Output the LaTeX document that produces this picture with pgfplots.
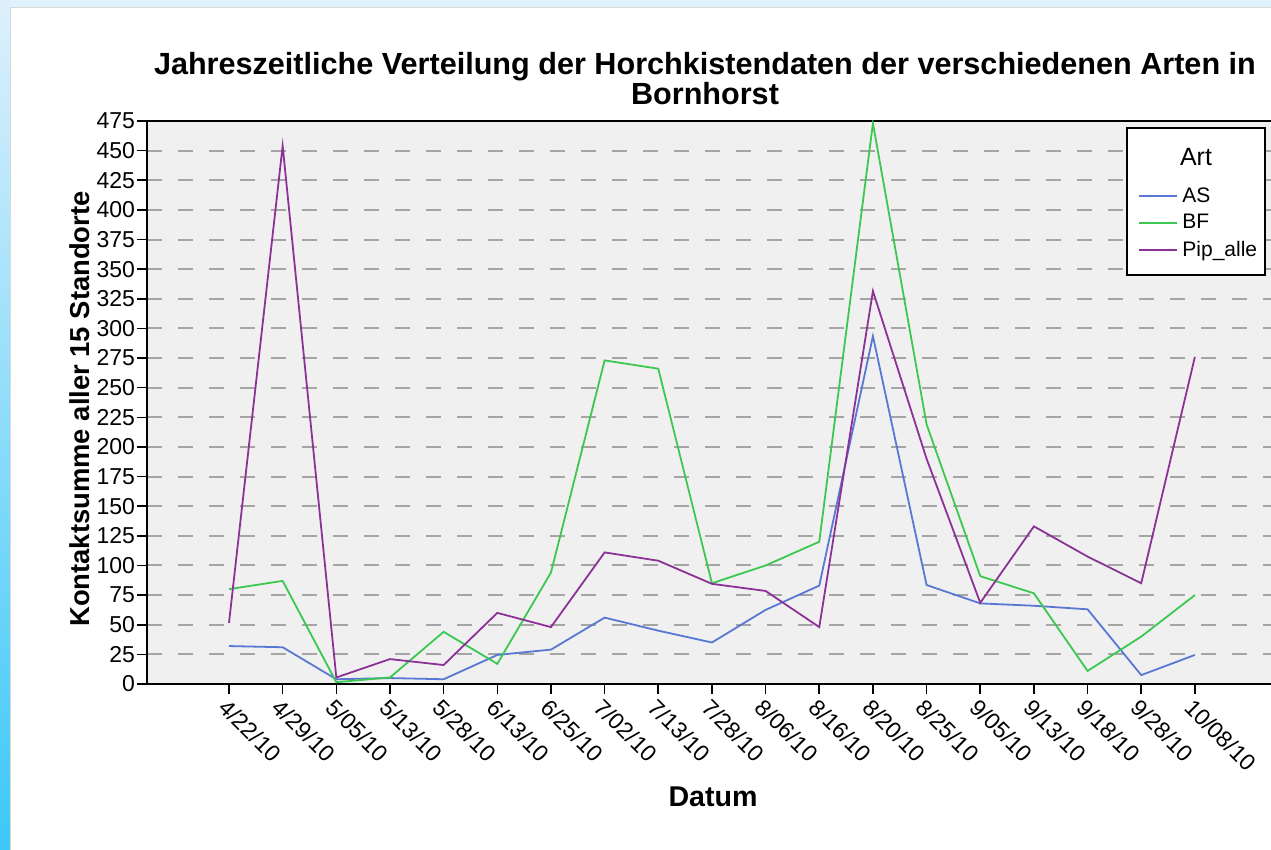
\documentclass[border=0pt]{standalone}
\usepackage{pgfplots}
\pgfplotsset{compat=1.18}
\usepackage{fontspec}
\setmainfont{Liberation Sans}
\definecolor{asblue}{RGB}{88,120,212}
\definecolor{bfgreen}{RGB}{60,200,80}
\definecolor{pippurple}{RGB}{140,50,150}
\definecolor{plotbg}{RGB}{240,240,240}
\definecolor{gridgray}{RGB}{165,165,165}
\definecolor{striptop}{RGB}{222,240,252}
\definecolor{stripbot}{RGB}{60,200,248}
\definecolor{topband}{RGB}{226,242,252}
\begin{document}
\begin{tikzpicture}
\useasboundingbox (0,0) rectangle (635.5pt,425pt);
\begin{scope}
\clip (0,0) rectangle (635.5pt,425pt);
\fill[white] (0,0) rectangle (635.5pt,425pt);
\fill[top color=striptop, bottom color=stripbot] (0,0) rectangle (5pt,425pt);
\fill[topband] (5pt,421.5pt) rectangle (635.5pt,425pt);
\draw[black!15, line width=0.5pt] (5.25pt,0) -- (5.25pt,421.25pt) -- (635.5pt,421.25pt);
\begin{axis}[
  at={(73.5pt,83pt)}, anchor=south west,
  scale only axis, width=565pt, height=281.5pt,
  xmin=-1.528, xmax=19.53, ymin=0, ymax=475,
  ytick={0,25,...,475},
  xtick={0,...,18},
  xticklabels={4/22/10,4/29/10,5/05/10,5/13/10,5/28/10,6/13/10,6/25/10,7/02/10,7/13/10,7/28/10,8/06/10,8/16/10,8/20/10,8/25/10,9/05/10,9/13/10,9/18/10,9/28/10,10/08/10},
  axis background/.style={fill=plotbg},
  ymajorgrids,
  grid style={gridgray, line width=1pt, dash pattern=on 7.5pt off 8pt},
  tick align=outside, xtick pos=lower, ytick pos=left,
  major tick length=5pt,
  tick style={black, line width=0.8pt},
  axis line style={black, line width=1pt},
  /pgf/number format/assume math mode=true,
  y tick label style={inner sep=0.8pt, font=\fontsize{11.5}{13}\selectfont},
  x tick label style={rotate=-45, anchor=north west, inner sep=1pt, font=\fontsize{11.5}{13}\selectfont},
  legend style={at={(0.877,0.8899)}, anchor=north west, draw=none, fill=none,
    font=\fontsize{10.5}{12}\selectfont, cells={anchor=west}, row sep=0.6pt, inner sep=0pt},
  legend image code/.code={\draw[#1, line width=1pt] (0pt,0pt) -- (19pt,0pt);},
]
\draw[black, line width=0.8pt, fill=white] (axis description cs:0.8673,0.7265) rectangle (axis description cs:0.9894,0.9876);
\node[font=\fontsize{12.5}{14}\selectfont] at (axis description cs:0.9283,0.936) {Art};
\addplot[asblue, line width=0.9pt] coordinates {
(0,32) (1,31) (2,4) (3,5) (4,4) (5,24.5) (6,29) (7,56) (8,45) (9,35) (10,62.5) (11,83) (12,293.5) (13,83.5) (14,68) (15,66) (16,63) (17,7.5) (18,24.5)};
\addlegendentry{AS}
\addplot[bfgreen, line width=0.9pt] coordinates {
(0,80) (1,87) (2,1.5) (3,5.5) (4,44) (5,17) (6,94) (7,273) (8,266) (9,85) (10,100) (11,120) (12,473) (13,219) (14,91) (15,76.5) (16,11) (17,40) (18,75)};
\addlegendentry{BF}
\addplot[pippurple, line width=0.9pt] coordinates {
(0,51.5) (1,454) (2,5.5) (3,21) (4,16) (5,60) (6,48) (7,111) (8,104) (9,84.5) (10,78.5) (11,48) (12,331.5) (13,190) (14,68.5) (15,133) (16,107.5) (17,85) (18,276)};
\addlegendentry{Pip\_alle}
\end{axis}
\node[anchor=base, font=\fontsize{15.3}{15}\selectfont\bfseries] at (352.5pt,387.5pt) {Jahreszeitliche Verteilung der Horchkistendaten der verschiedenen Arten in};
\node[anchor=base, font=\fontsize{15.3}{15}\selectfont\bfseries] at (352.5pt,372.5pt) {Bornhorst};
\node[rotate=90, anchor=center, font=\fontsize{13.7}{15}\selectfont\bfseries] at (40pt,220.5pt) {Kontaktsumme aller 15 Standorte};
\node[anchor=base, font=\fontsize{14.3}{15}\selectfont\bfseries] at (356.5pt,21.5pt) {Datum};
\end{scope}
\end{tikzpicture}
\end{document}
